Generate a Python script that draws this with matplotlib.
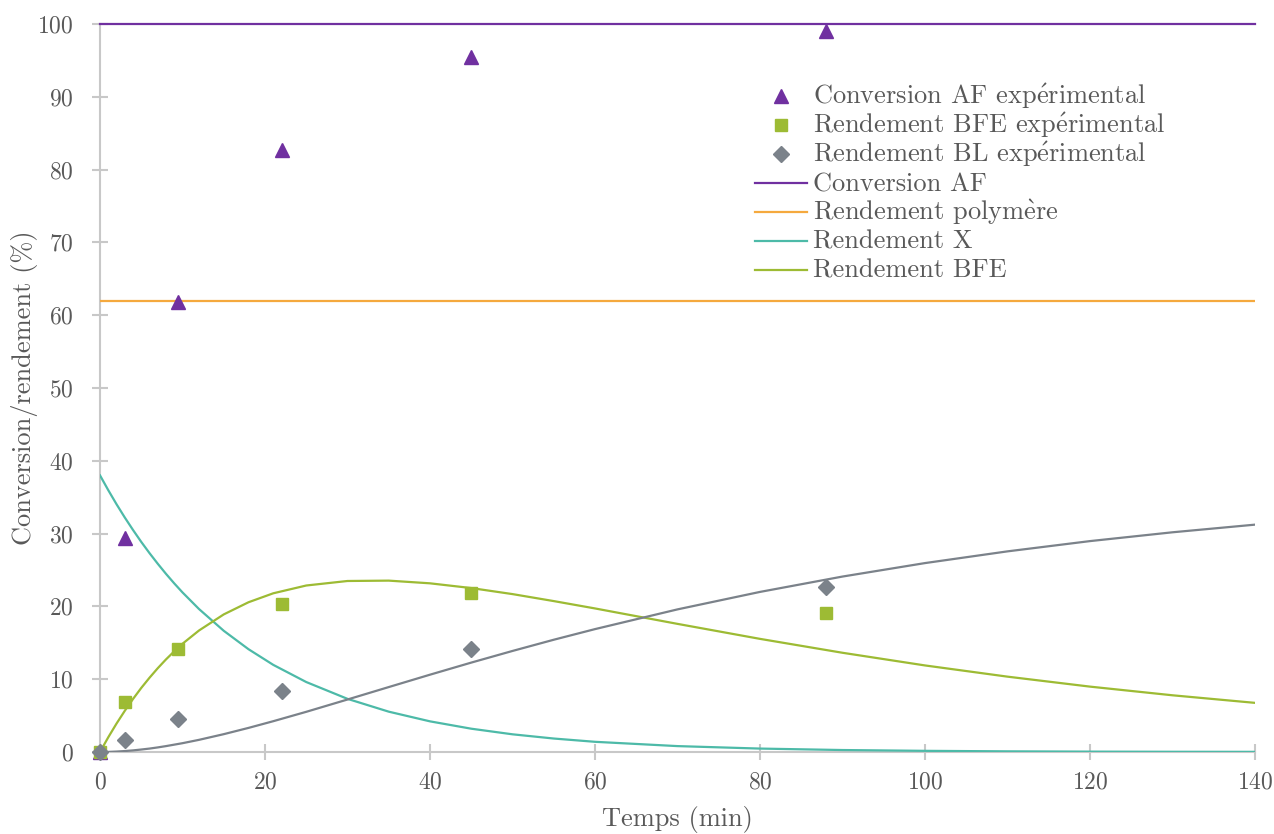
import matplotlib
matplotlib.use("Agg")
import matplotlib.pyplot as plt
from matplotlib.lines import Line2D

plt.rcParams['font.family'] = ['cmr10', 'DejaVu Serif']
plt.rcParams['mathtext.fontset'] = 'cm'
plt.rcParams['axes.formatter.use_mathtext'] = True

# Experimental data
t_exp = [0, 3, 9.5, 22, 45, 88]
conv_af_exp = [0, 29.4, 61.8, 82.7, 95.5, 99.1]
bfe_exp = [0, 6.8, 14.2, 20.3, 21.9, 19.1]
bl_exp = [0, 1.6, 4.5, 8.4, 14.2, 22.6]

# Model curves
t_mod = [0, 1, 2, 3, 4, 5, 6, 7, 8, 9, 10, 12, 15, 18, 21, 25, 30, 35, 40,
         45, 50, 55, 60, 70, 80, 90, 100, 110, 120, 130, 140]
x_mod = [38.0, 35.97, 34.04, 32.22, 30.50, 28.86, 27.32, 25.86, 24.47, 23.16,
         21.92, 19.64, 16.65, 14.12, 11.97, 9.61, 7.30, 5.54, 4.21, 3.20,
         2.43, 1.85, 1.40, 0.81, 0.47, 0.27, 0.16, 0.09, 0.05, 0.03, 0.02]
bfe_mod = [0.0, 2.02, 3.90, 5.65, 7.28, 8.80, 10.20, 11.51, 12.72, 13.83,
           14.87, 16.69, 18.90, 20.57, 21.80, 22.87, 23.49, 23.54, 23.17,
           22.52, 21.69, 20.73, 19.72, 17.60, 15.54, 13.63, 11.89, 10.35,
           8.98, 7.79, 6.75]
bl_mod = [0.0, 0.01, 0.06, 0.13, 0.22, 0.34, 0.47, 0.63, 0.81, 1.01, 1.21,
          1.67, 2.45, 3.31, 4.23, 5.52, 7.21, 8.92, 10.62, 12.28, 13.88,
          15.42, 16.88, 19.59, 21.99, 24.10, 25.95, 27.56, 28.97, 30.18, 31.23]
conv_af_level = 100
polymer_level = 62

legend_labels = [
    r'Conversion AF exp$\acute{\mathrm{e}}$rimental',
    r'Rendement BFE exp$\acute{\mathrm{e}}$rimental',
    r'Rendement BL exp$\acute{\mathrm{e}}$rimental',
    'Conversion AF',
    r'Rendement polym$\grave{\mathrm{e}}$re',
    'Rendement X',
    'Rendement BFE',
]

c_purple = '#7030A0'
c_orange = '#F5A93E'
c_teal = '#4DBAA8'
c_green = '#9DBB34'
c_gray = '#7B828A'
c_text = '#595959'
c_axis = '#C8C8C8'

W, H = 1274, 834
fig = plt.figure(figsize=(W/100, H/100), dpi=100)
ax = fig.add_axes([100/W, 82/H, 1155/W, 728/H])

lw = 1.6
ax.plot([0, 140], [conv_af_level]*2, color=c_purple, lw=lw, clip_on=False)
ax.plot([0, 140], [polymer_level]*2, color=c_orange, lw=lw)
ax.plot(t_mod, x_mod, color=c_teal, lw=lw)
ax.plot(t_mod, bfe_mod, color=c_green, lw=lw)
ax.plot(t_mod, bl_mod, color=c_gray, lw=lw)

marker_styles = [('^', c_purple, 10), ('s', c_green, 9), ('D', c_gray, 8)]
for (m, c, ms), yv in zip(marker_styles, [conv_af_exp, bfe_exp, bl_exp]):
    ax.plot(t_exp, yv, m, color=c, ms=ms, ls='none', clip_on=False)

ax.set_xlim(0, 140)
ax.set_ylim(0, 100)
ax.set_xticks(range(0, 141, 20))
ax.set_yticks(range(0, 101, 10))
for s in ['top', 'right']:
    ax.spines[s].set_visible(False)
for s in ['left', 'bottom']:
    ax.spines[s].set_color(c_axis)
    ax.spines[s].set_linewidth(1.5)
    ax.spines[s].set_zorder(0)
ax.tick_params(axis='both', direction='inout', length=12, width=1.5, color=c_axis,
               labelcolor=c_text, labelsize=17)
ax.tick_params(axis='y', pad=13)
ax.tick_params(axis='x', pad=8)

ax.set_xlabel('Temps (min)', fontsize=19, color=c_text)
ax.set_ylabel('Conversion/rendement (%)', fontsize=19, color=c_text)
ax.yaxis.set_label_coords((38 - 100) / 1155, 0.5)
ax.xaxis.set_label_coords(0.5, (752 - 806) / 728)

# Legend drawn entry by entry (fixed row pitch, as in the reference)
line_styles = [c_purple, c_orange, c_teal, c_green]
y0, dy = 96, 29
for i, lab in enumerate(legend_labels):
    yc = 1 - (y0 + i * dy) / H
    if i < 3:
        m, c, ms = marker_styles[i]
        fig.add_artist(Line2D([781 / W], [yc], marker=m, color=c, ms=ms, ls='none',
                              transform=fig.transFigure))
    else:
        fig.add_artist(Line2D([755 / W, 807 / W], [yc, yc], color=line_styles[i - 3],
                              lw=lw, transform=fig.transFigure))
    fig.text(813 / W, 1 - (y0 + i * dy + 8) / H, lab, fontsize=19, color=c_text,
             ha='left', va='baseline')

fig.savefig('out.png', dpi=100)
